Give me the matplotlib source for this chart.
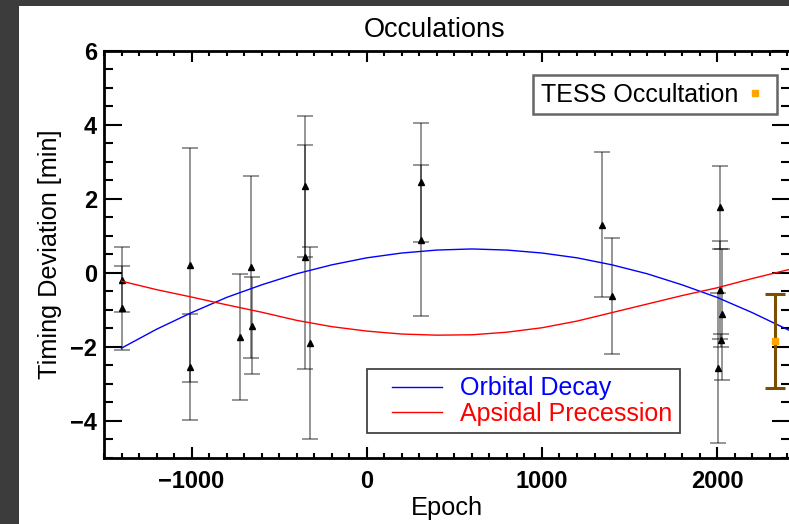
import matplotlib
matplotlib.use('Agg')
import matplotlib.pyplot as plt
from matplotlib.lines import Line2D
from matplotlib.patches import Rectangle
from matplotlib.ticker import MultipleLocator
from matplotlib.legend_handler import HandlerLine2D

plt.rcParams['font.family'] = ['Liberation Sans', 'DejaVu Sans']

# Ground based occultation timings (epoch, deviation [min], error [min])
epoch = [-1400, -1400, -1010, -1010, -725, -660, -655, -355, -355, -322,
         310, 310, 1340, 1400, 2014, 2014, 2030, 2022, 2004]
dev = [-0.18, -0.95, 0.22, -2.55, -1.73, 0.17, -1.42, 2.34, 0.43, -1.90,
       2.45, 0.88, 1.31, -0.62, 1.78, -0.46, -1.12, -1.82, -2.57]
err = [0.87, 1.14, 3.17, 1.43, 1.70, 2.46, 1.30, 1.90, 3.03, 2.60,
       1.60, 2.03, 1.96, 1.57, 1.12, 1.33, 1.78, 0.18, 2.02]

# TESS occultation
tess_epoch = [2333]
tess_dev = [-1.85]
tess_err = [1.27]

# model curves
model_epoch = [-1400, -1200, -1000, -800, -600, -400, -200, 0, 200, 400,
               600, 800, 1000, 1200, 1400, 1600, 1800, 2000, 2200, 2416]
decay = [-2.03, -1.52, -1.07, -0.66, -0.32, -0.02, 0.22, 0.41, 0.54, 0.62,
         0.65, 0.62, 0.54, 0.41, 0.22, -0.02, -0.32, -0.66, -1.07, -1.56]
apsidal = [-0.22, -0.45, -0.65, -0.86, -1.06, -1.28, -1.45, -1.57, -1.65, -1.68,
           -1.67, -1.60, -1.48, -1.30, -1.07, -0.84, -0.61, -0.40, -0.15, 0.10]

fig = plt.figure(figsize=(7.89, 5.24), dpi=100, facecolor='#3c3c3c')
# white page inside the dark screenshot border
fig.patches.append(Rectangle((19 / 789, 0), 1, 1 - 6 / 524, transform=fig.transFigure,
                             facecolor='white', edgecolor='none', zorder=-10))

ax = fig.add_axes([104 / 789, 1 - 458 / 524, (790 - 104) / 789, (458 - 51) / 524])

ax.errorbar(epoch, dev, yerr=err, fmt='none', ecolor='k', elinewidth=1.3,
            capsize=5.5, capthick=1.3, alpha=0.45)
ax.plot(epoch, dev, ls='none', marker='^', color='k', ms=5)

ax.plot(model_epoch, decay, color='blue', lw=1.0)
ax.plot(model_epoch, apsidal, color='red', lw=1.0)

ax.errorbar(tess_epoch, tess_dev, yerr=tess_err, fmt='none', ecolor='#7a5000',
            elinewidth=2.2, capsize=7, capthick=2.2)
ax.plot(tess_epoch, tess_dev, ls='none', marker='s', color='orange', ms=5)

ax.set_xlim(-1500, 2416)
ax.set_ylim(-5, 6)
ax.xaxis.set_major_locator(MultipleLocator(1000))
ax.xaxis.set_minor_locator(MultipleLocator(100))
ax.yaxis.set_major_locator(MultipleLocator(2))
ax.yaxis.set_minor_locator(MultipleLocator(0.5))
ax.tick_params(which='both', direction='in', top=True, right=True, width=1.5)
ax.tick_params(axis='x', which='major', length=8, labelsize=17, pad=9)
ax.tick_params(axis='x', which='minor', length=3.5)
ax.tick_params(axis='y', which='major', length=13, labelsize=17, pad=5)
ax.tick_params(axis='y', which='minor', length=6.5)
for lab in ax.get_xticklabels() + ax.get_yticklabels():
    lab.set_fontweight('bold')
for sp in ax.spines.values():
    sp.set_linewidth(2)

ax.set_xlabel('Epoch', fontsize=18.3, labelpad=2)
ax.set_ylabel('Timing Deviation [min]', fontsize=18.2, labelpad=6)
fig.text(435 / 789, 1 - 37 / 524, 'Occulations', fontsize=19.5, ha='center', va='baseline')

tess_handle = Line2D([], [], ls='none', marker='s', color='orange', ms=4)
leg1 = ax.legend([tess_handle], ['TESS Occultation'], loc='upper right',
                 bbox_to_anchor=(777 / 789, 1 - 75 / 524), bbox_transform=fig.transFigure,
                 markerfirst=False, handlelength=1.2, handletextpad=0.05,
                 fontsize=18, fancybox=False, framealpha=1, edgecolor='#666666',
                 borderpad=0.3, borderaxespad=0)
leg1.get_frame().set_linewidth(1.8)
ax.add_artist(leg1)

model_handles = [Line2D([], [], color='blue', lw=1), Line2D([], [], color='red', lw=1)]
leg2 = ax.legend(model_handles, ['Orbital Decay', 'Apsidal Precession'], loc='lower left',
                 bbox_to_anchor=(367 / 789, 1 - 433 / 524), bbox_transform=fig.transFigure,
                 handler_map={Line2D: HandlerLine2D(xpad=0.7)},
                 handlelength=2.7, handletextpad=0.72, labelspacing=0.05,
                 fontsize=18, fancybox=False, framealpha=1, edgecolor='#444444',
                 labelcolor='linecolor', borderpad=0.3, borderaxespad=0)
leg2.get_frame().set_linewidth(1.3)

fig.savefig('out.png', dpi=100, facecolor=fig.get_facecolor())
